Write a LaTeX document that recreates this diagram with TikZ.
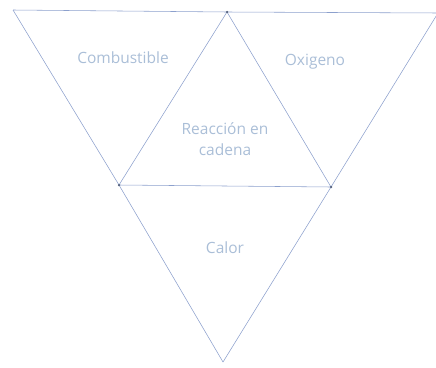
\documentclass[tikz,border=0pt]{standalone}
\usepackage{fontspec}
\setmainfont{Open Sans}
\usetikzlibrary{positioning}
\definecolor{edgeblue}{RGB}{140,160,205}
\definecolor{textblue}{RGB}{170,190,215}

\begin{document}
\begin{tikzpicture}[
  x=1pt, y=-1pt,
  % ---- Style definitions ----
  side/.style={draw=edgeblue, line width=0.55pt},
  lbl/.style={font=\fontsize{15.5}{21}\selectfont, text=textblue, align=center},
  vdot/.style={circle, fill=edgeblue!60!black, inner sep=0pt, minimum size=2.5pt},
]
\useasboundingbox (0,0) rectangle (436,367);

% ---- Vertices ----
\coordinate (tl) at (13,10);
\coordinate (tm) at (227,12);
\coordinate (tr) at (438,13);
\coordinate (ml) at (119,185);
\coordinate (mr) at (331,187);
\coordinate (bt) at (223,362);

% ---- Outer and inner triangles ----
\draw[side] (tl) -- (tm) -- (tr);
\draw[side] (tl) -- (ml) -- (bt);
\draw[side] (tr) -- (mr) -- (bt);
\draw[side] (ml) -- (tm) -- (mr);
\draw[side] (ml) -- (mr);

% ---- Corner dots ----
\node[vdot] at (tm) {};
\node[vdot] at (ml) {};
\node[vdot] at (mr) {};

% ---- Labels ----
\node[lbl] (fuel) at (123,58) {Combustible};
\node[lbl] (oxy) at (315,62) {Oxigeno};
\node[lbl] (chain) at (225,139) {Reacción en\\cadena};
\node[lbl] (heat) at (225,248) {Calor};

\end{tikzpicture}
\end{document}
